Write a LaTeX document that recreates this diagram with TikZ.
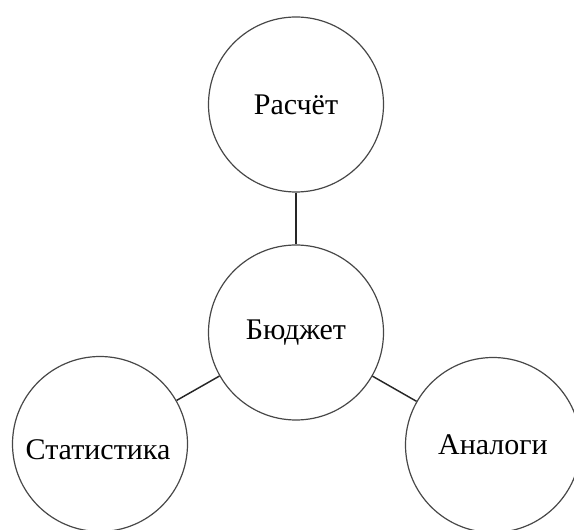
\documentclass[tikz,border=0pt]{standalone}
\usepackage{fontspec}
\setmainfont{Liberation Serif}
\begin{document}
\begin{tikzpicture}[x=0.75pt,y=-0.75pt,
  label font/.style={font=\fontsize{22.5}{27}\selectfont},
  bubble/.style={circle,draw=black!72,line width=0.9pt,minimum size=175*0.75pt,inner sep=0pt,label font},
  link/.style={draw=black!85,line width=1.1pt}]
  \useasboundingbox (0,0) rectangle (574,530);
  \node[bubble] (calc) at (296,104.5) {Расчёт};
  \node[bubble] (budget) at (296,332.5) {Бюджет};
  \node[bubble] (stat) at (100,444) {};
  \node[label font] (statlabel) at (98,450) {Статистика};
  \node[bubble] (analog) at (493,445) {Аналоги};
  \draw[link] (calc) -- (budget);
  \draw[link] (budget) -- (stat);
  \draw[link] (budget) -- (analog);
\end{tikzpicture}
\end{document}
